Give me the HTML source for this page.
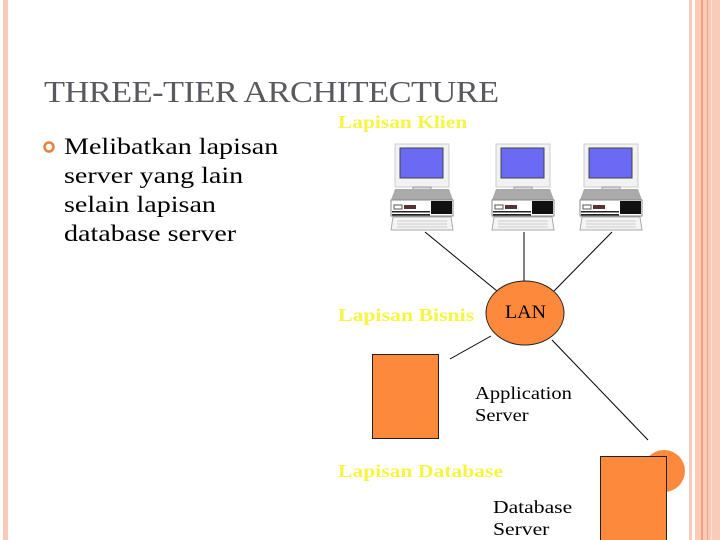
<!DOCTYPE html>
<html><head><style>
body{margin:0;width:720px;height:540px;overflow:hidden;background:#fff;position:relative;font-family:"Liberation Serif",serif}
.t{position:absolute;transform-origin:0 0;white-space:nowrap}
</style></head><body>
<svg width="720" height="540" style="position:absolute;left:0;top:0">
<defs>
<g id="pc">
<rect x="6" y="0" width="54" height="43" fill="#f2f2f2" stroke="#ccc"/>
<rect x="11" y="4" width="43" height="30" fill="#6a6af5" stroke="#444"/>
<rect x="24" y="43" width="18" height="4" fill="#ddd" stroke="#999"/>
<polygon points="6,45 60,45 64,56 2,56" fill="#aaa"/>
<rect x="2" y="56" width="62" height="16" fill="#fff" stroke="#888"/>
<rect x="42" y="57" width="21" height="13" fill="#111"/>
<rect x="5" y="61" width="8" height="4" fill="none" stroke="#555"/>
<rect x="15" y="61" width="12" height="4" fill="#533"/>
<rect x="3" y="67" width="38" height="1.5" fill="#222"/>
<rect x="3" y="70" width="38" height="1.5" fill="#222"/>
<polygon points="4,73 62,73 64,86 2,86" fill="#f4f4f4" stroke="#aaa"/>
<path d="M8,77h50M8,80h50M8,83h50" stroke="#ccc"/>
</g>
</defs>
<rect x="3" y="0" width="5" height="540" fill="#f9cbb8"/>
<rect x="689" y="0" width="3" height="540" fill="#f9cbb8"/>
<rect x="695" y="0" width="25" height="540" fill="#f9cbb8"/>
<rect x="701" y="0" width="2" height="540" fill="#f3a07c"/>
<rect x="707" y="0" width="1" height="540" fill="#f3a07c"/>
<rect x="711" y="0" width="1" height="540" fill="#fde5dc"/>
<use href="#pc" x="389" y="144"/>
<use href="#pc" x="490" y="144"/>
<use href="#pc" x="578" y="144"/>
<g stroke="#000" stroke-width="1" fill="none">
<line x1="425" y1="232" x2="497" y2="291"/>
<line x1="524" y1="232" x2="524" y2="281"/>
<line x1="612" y1="232" x2="554" y2="291"/>
<line x1="491" y1="336" x2="450" y2="359"/>
<line x1="552" y1="340" x2="648" y2="440"/>
</g>
<ellipse cx="525" cy="313" rx="39" ry="32" fill="#fd8a3c" stroke="#222"/>
<circle cx="664" cy="471" r="21" fill="#fd8a3c"/>
<rect x="372.5" y="354.5" width="66" height="84" fill="#fd8a3c" stroke="#222"/>
<rect x="600.5" y="456.5" width="66" height="90" fill="#fd8a3c" stroke="#222"/>
<circle cx="49" cy="147" r="4.5" fill="none" stroke="#e8823a" stroke-width="2.5"/>
</svg>
<div class="t" style="left:44px;top:74px;font-size:31px;color:#59595f;letter-spacing:-0.5px;transform:scaleX(1.11)">THREE-TIER ARCHITECTURE</div>
<div class="t" style="left:64px;top:132px;font-size:23px;line-height:29px;color:#000;transform:scaleX(1.22)">Melibatkan lapisan<br>server yang lain<br>selain lapisan<br>database server</div>
<div class="t" style="left:338px;top:112px;font-size:18px;font-weight:bold;color:#f5f542;transform:scaleX(1.19)">Lapisan Klien</div>
<div class="t" style="left:338px;top:305px;font-size:18px;font-weight:bold;color:#f5f542;transform:scaleX(1.21)">Lapisan Bisnis</div>
<div class="t" style="left:338px;top:461px;font-size:18px;font-weight:bold;color:#f5f542;transform:scaleX(1.2)">Lapisan Database</div>
<div class="t" style="left:505px;top:302px;font-size:19px;color:#000;transform:scaleX(1.05)">LAN</div>
<div class="t" style="left:475px;top:382px;font-size:18px;line-height:22px;color:#000;transform:scaleX(1.14)">Application<br>Server</div>
<div class="t" style="left:493px;top:496px;font-size:18px;line-height:22px;color:#000;transform:scaleX(1.2)">Database<br>Server</div>
</body></html>
